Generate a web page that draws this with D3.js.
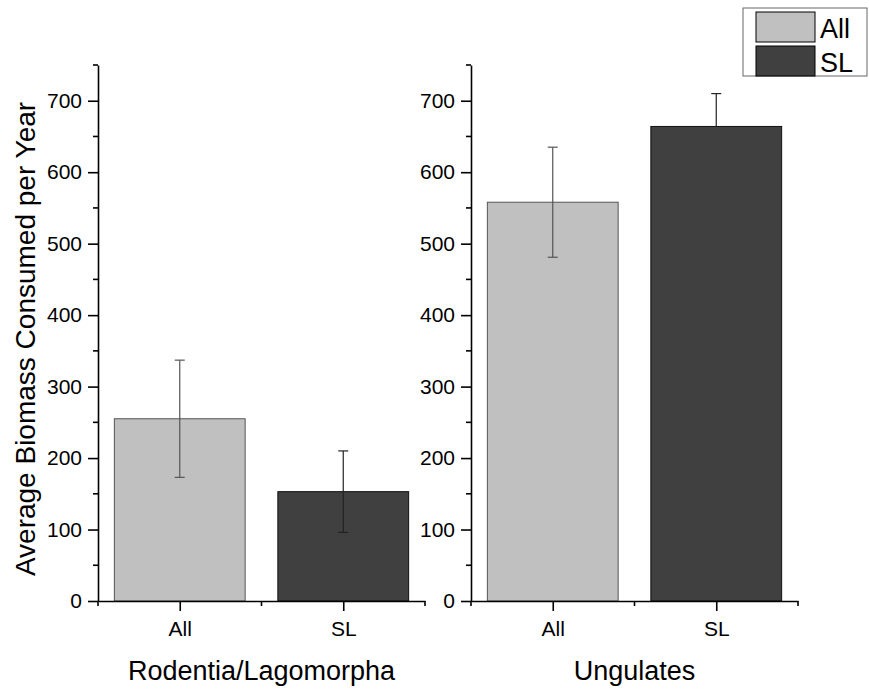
<!DOCTYPE html>
<html>
<head>
<meta charset="utf-8">
<script src="https://cdn.jsdelivr.net/npm/d3@7"></script>
<style>
  body { margin: 0; background: #fff; }
  svg { font-family: "Liberation Sans", Arial, sans-serif; }
</style>
</head>
<body>
<svg width="869" height="692"></svg>
<script>
var groups = ["Rodentia/Lagomorpha", "Ungulates"];
var categories = ["All", "SL"];
var means = [[255, 153], [558, 664]];
var errHigh = [[82, 57], [77, 46]];
var errLow = [[82, 57], [77, 0]];
var yTicks = [0, 100, 200, 300, 400, 500, 600, 700];
var yMinorTicks = [50, 150, 250, 350, 450, 550, 650, 750];

var fills = {All: "#c0c0c0", SL: "#404040"};
var outlines = {All: "#555", SL: "#111"};
var errColors = {All: "#555", SL: "#222"};

var panels = [{x0: 98, x1: 425}, {x0: 471, x1: 798}];
var yZero = 601, yTop = 65;
var capWidth = 10;

var svg = d3.select("svg");

var y = d3.scaleLinear().domain([0, 750]).range([yZero, yTop]);

panels.forEach(function(panel, gi) {
    var g = svg.append("g").attr("class", "panel");
    var x = d3.scaleBand()
        .domain(categories)
        .range([panel.x0, panel.x1])
        .paddingInner(0.2)
        .paddingOuter(0.1);

    var rows = categories.map(function(c, ci) {
        return {cat: c, value: means[gi][ci], hi: errHigh[gi][ci], lo: errLow[gi][ci]};
    });

    // bars
    g.selectAll("rect")
        .data(rows)
        .enter()
        .append("rect")
        .attr("x", function(d) { return x(d.cat); })
        .attr("y", function(d) { return y(d.value); })
        .attr("width", x.bandwidth())
        .attr("height", function(d) { return y(0) - y(d.value); })
        .attr("fill", function(d) { return fills[d.cat]; })
        .attr("stroke", function(d) { return outlines[d.cat]; })
        .attr("stroke-width", 1);

    // error bars
    var err = g.selectAll("g.err")
        .data(rows)
        .enter()
        .append("g")
        .attr("class", "err")
        .attr("stroke", function(d) { return errColors[d.cat]; })
        .attr("stroke-width", 1.2);
    err.append("line")
        .attr("x1", function(d) { return x(d.cat) + x.bandwidth() / 2; })
        .attr("x2", function(d) { return x(d.cat) + x.bandwidth() / 2; })
        .attr("y1", function(d) { return y(d.value - d.lo); })
        .attr("y2", function(d) { return y(d.value + d.hi); });
    err.append("line")
        .attr("x1", function(d) { return x(d.cat) + x.bandwidth() / 2 - capWidth / 2; })
        .attr("x2", function(d) { return x(d.cat) + x.bandwidth() / 2 + capWidth / 2; })
        .attr("y1", function(d) { return y(d.value + d.hi); })
        .attr("y2", function(d) { return y(d.value + d.hi); });
    err.filter(function(d) { return d.lo > 0; })
        .append("line")
        .attr("x1", function(d) { return x(d.cat) + x.bandwidth() / 2 - capWidth / 2; })
        .attr("x2", function(d) { return x(d.cat) + x.bandwidth() / 2 + capWidth / 2; })
        .attr("y1", function(d) { return y(d.value - d.lo); })
        .attr("y2", function(d) { return y(d.value - d.lo); });

    // y axis
    var yAxis = d3.axisLeft(y).tickValues(yTicks).tickSize(10).tickPadding(6).tickSizeOuter(0);
    var ya = g.append("g")
        .attr("transform", "translate(" + panel.x0 + ",0)")
        .call(yAxis);
    ya.append("g").selectAll("line")
        .data(yMinorTicks)
        .enter()
        .append("line")
        .attr("x1", -5).attr("x2", 0)
        .attr("y1", function(d) { return y(d); })
        .attr("y2", function(d) { return y(d); })
        .attr("stroke", "#000");

    // x axis
    var xPos = d3.scalePoint().domain(categories).range([panel.x0, panel.x1]).padding(0.5);
    var xAxis = d3.axisBottom(xPos).tickSize(10).tickPadding(10).tickSizeOuter(0);
    var xa = g.append("g")
        .attr("transform", "translate(0," + yZero + ")")
        .call(xAxis);
    var edges = [panel.x0, (panel.x0 + panel.x1) / 2, panel.x1];
    xa.append("g").selectAll("line")
        .data(edges)
        .enter()
        .append("line")
        .attr("x1", function(d) { return d; })
        .attr("x2", function(d) { return d; })
        .attr("y1", 0).attr("y2", 5)
        .attr("stroke", "#000");

    [ya, xa].forEach(function(a) {
        a.selectAll("path.domain").attr("stroke", "#000").attr("stroke-width", 1.6);
        a.selectAll("line").attr("stroke-width", 1.6);
        a.selectAll("text")
            .attr("fill", "#000")
            .style("font-family", "'Liberation Sans', Arial, sans-serif")
            .style("font-size", "21px");
    });

    // group title
    g.append("text")
        .attr("x", (panel.x0 + panel.x1) / 2)
        .attr("y", 680)
        .attr("text-anchor", "middle")
        .style("font-size", "27px")
        .text(groups[gi]);
});

// y title
svg.append("text")
    .attr("transform", "translate(35,339) rotate(-90)")
    .attr("text-anchor", "middle")
    .style("font-size", "28px")
    .text("Average Biomass Consumed per Year");

// legend
var legend = svg.append("g").attr("class", "legend");
legend.append("rect")
    .attr("x", 743).attr("y", 8)
    .attr("width", 124).attr("height", 68)
    .attr("fill", "#fff")
    .attr("stroke", "#666")
    .attr("stroke-width", 1);
var items = legend.selectAll("g.item")
    .data(categories)
    .enter()
    .append("g")
    .attr("class", "item")
    .attr("transform", function(d, i) { return "translate(756," + (12 + i * 34) + ")"; });
items.append("rect")
    .attr("width", 59).attr("height", 30)
    .attr("fill", function(d) { return fills[d]; })
    .attr("stroke", "#000");
items.append("text")
    .attr("x", 64).attr("y", 26)
    .style("font-size", "27px")
    .text(function(d) { return d; });
</script>
</body>
</html>
